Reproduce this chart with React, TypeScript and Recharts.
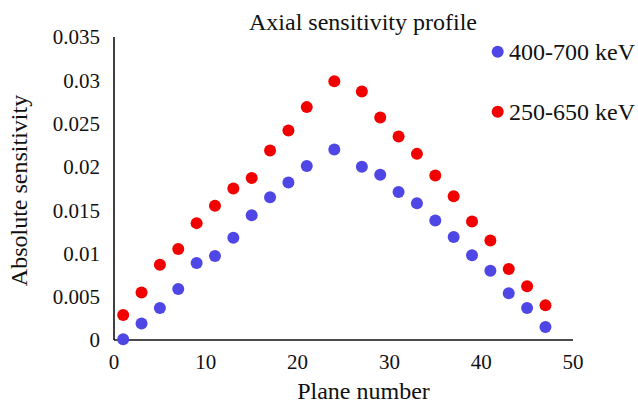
import React from 'react';
import { ScatterChart, Scatter, XAxis, YAxis, Legend, Label } from 'recharts';

const planes = [1, 3, 5, 7, 9, 11, 13, 15, 17, 19, 21, 24, 27, 29, 31, 33, 35, 37, 39, 41, 43, 45, 47];
const sens400to700 = [0.0001, 0.0019, 0.0037, 0.0059, 0.0089, 0.0097, 0.0118, 0.0144, 0.0165, 0.0182, 0.0201, 0.022, 0.02, 0.0191, 0.0171, 0.0158, 0.0138, 0.0119, 0.0098, 0.008, 0.0054, 0.0037, 0.0015];
const sens250to650 = [0.0029, 0.0055, 0.0087, 0.0105, 0.0135, 0.0155, 0.0175, 0.0187, 0.0219, 0.0242, 0.0269, 0.0299, 0.0287, 0.0257, 0.0235, 0.0215, 0.019, 0.0166, 0.0137, 0.0115, 0.0082, 0.0062, 0.004];
const xTicks = [0, 10, 20, 30, 40, 50];
const yTicks = [0, 0.005, 0.01, 0.015, 0.02, 0.025, 0.03, 0.035];
const seriesNames = ['400-700 keV', '250-650 keV'];
const seriesColors = ['#4F46E6', '#F20000'];
const title = 'Axial sensitivity profile';
const xTitle = 'Plane number';
const yTitle = 'Absolute sensitivity';

const dataA = planes.map((p, i) => ({ x: p, y: sens400to700[i] }));
const dataB = planes.map((p, i) => ({ x: p, y: sens250to650[i] }));

const FONT = "'Liberation Serif', serif";

const dot = (color: string) => (props: any) => (
  <circle cx={props.cx} cy={props.cy} r={6} fill={color} />
);

const XLabelContent = (props: any) => {
  const vb = props.viewBox || {};
  const cx = vb.x + vb.width / 2 + 20;
  return (
    <text x={cx} y={399} textAnchor="middle" fontFamily={FONT} fontSize={24} fill="#111">
      {xTitle}
    </text>
  );
};

const YLabelContent = (props: any) => {
  const vb = props.viewBox || {};
  const cx = 27;
  const cy = vb.y + vb.height / 2 + 2;
  return (
    <text x={cx} y={cy} transform={`rotate(-90, ${cx}, ${cy})`} textAnchor="middle" fontFamily={FONT} fontSize={24} fill="#111">
      {yTitle}
    </text>
  );
};

const LegendContent = () => (
  <svg width={153} height={100} style={{ display: 'block' }}>
    {seriesNames.map((n, i) => (
      <g key={n}>
        <circle cx={12.7} cy={21.7 + i * 60} r={6} fill={seriesColors[i]} />
        <text x={24} y={30 + i * 59.5} fontFamily={FONT} fontSize={24} fill="#111">
          {n}
        </text>
      </g>
    ))}
  </svg>
);

const fmt = (v: number) => String(+Number(v).toFixed(3));

export default function App() {
  return (
    <div style={{ position: 'absolute', left: 0, top: 0, width: 638, height: 406, background: '#fff', fontFamily: FONT }}>
      <ScatterChart width={638} height={406} margin={{ top: 37, right: 65, bottom: 0, left: 0 }} style={{ fontFamily: FONT }}>
        <XAxis
          type="number"
          dataKey="x"
          domain={[0, 50]}
          ticks={xTicks}
          height={66}
          tickLine={false}
          tickSize={0}
          tickMargin={14}
          axisLine={{ stroke: '#111', strokeWidth: 1.6 }}
          tick={{ fontFamily: FONT, fontSize: 21, fill: '#111' }}
          interval={0}
        >
          <Label content={XLabelContent} />
        </XAxis>
        <YAxis
          type="number"
          dataKey="y"
          domain={[0, 0.035]}
          ticks={yTicks}
          width={114}
          tickLine={false}
          tickSize={0}
          tickMargin={14}
          tickFormatter={fmt}
          axisLine={{ stroke: '#111', strokeWidth: 1.6 }}
          tick={{ fontFamily: FONT, fontSize: 21, fill: '#111' }}
          interval={0}
        >
          <Label content={YLabelContent} />
        </YAxis>
        <Legend
          layout="vertical"
          align="center"
          verticalAlign="middle"
          content={LegendContent}
          wrapperStyle={{ left: 485, top: 30, width: 153, height: 100 }}
        />
        <Scatter name={seriesNames[0]} data={dataA} fill={seriesColors[0]} shape={dot(seriesColors[0])} isAnimationActive={false} />
        <Scatter name={seriesNames[1]} data={dataB} fill={seriesColors[1]} shape={dot(seriesColors[1])} isAnimationActive={false} />
      </ScatterChart>
      <svg width={638} height={40} style={{ position: 'absolute', left: 0, top: 0, pointerEvents: 'none' }}>
        <text x={363} y={30} textAnchor="middle" fontFamily={FONT} fontSize={24} fill="#111">
          {title}
        </text>
      </svg>
    </div>
  );
}
